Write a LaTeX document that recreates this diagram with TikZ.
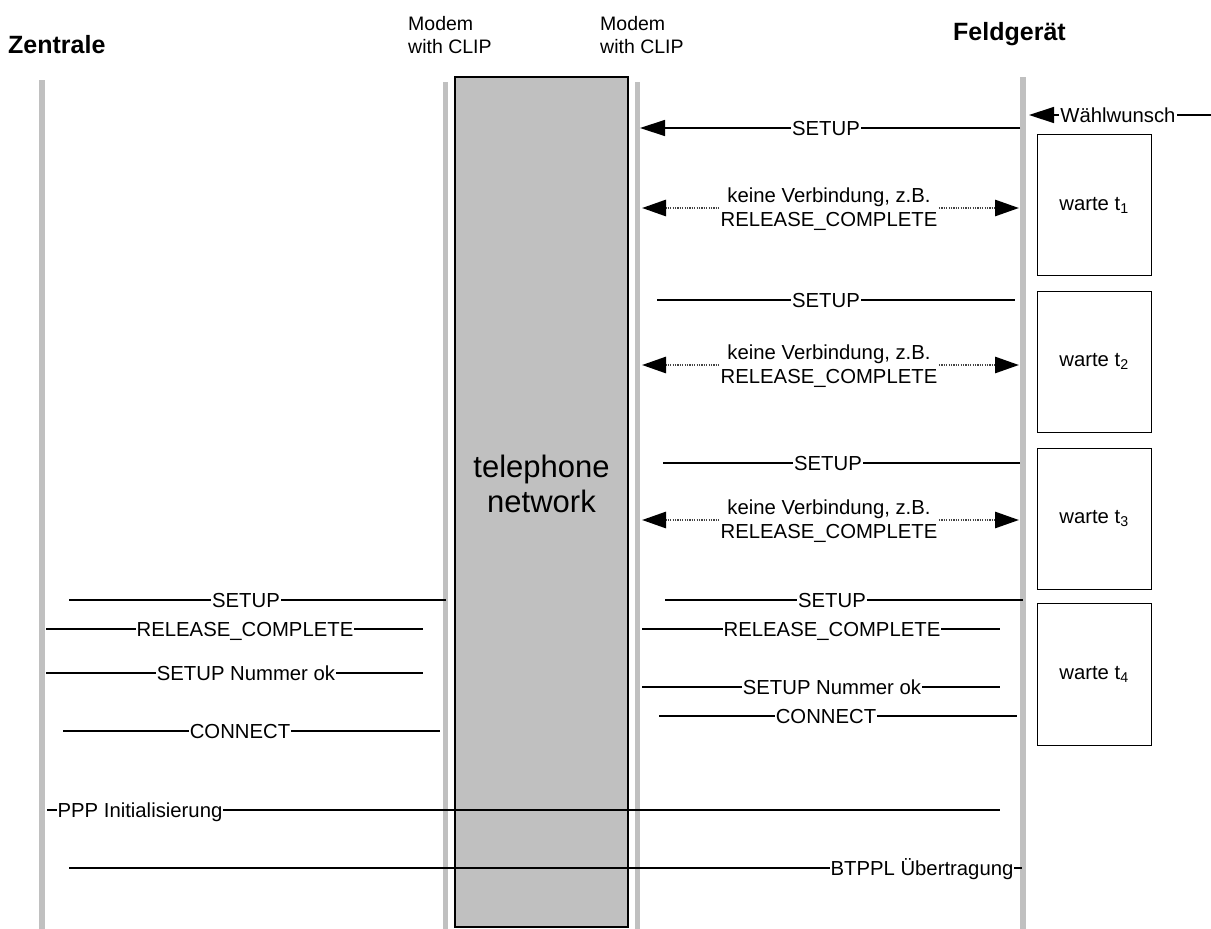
\documentclass[tikz,border=0pt]{standalone}
\usepackage{fontspec}
\setmainfont{Liberation Sans}
\usetikzlibrary{arrows.meta}
\definecolor{lgray}{HTML}{C0C0C0}
\definecolor{dotgray}{HTML}{444444}
\begin{document}
\begin{tikzpicture}[x=1pt,y=-1pt,
  lifeline/.style={draw=lgray, line width=5.5pt},
  msg/.style={draw=black, line width=1.4pt},
  lbl/.style={fill=white, inner xsep=1pt, inner ysep=0.5pt, anchor=base, font=\fontsize{20.3}{24}\selectfont},
  lbltwo/.style={fill=white, inner xsep=1pt, inner ysep=1pt, align=center, font=\fontsize{20.3}{24}\selectfont},
  head/.style={anchor=base west, inner sep=0pt, font=\fontsize{25}{30}\selectfont\bfseries},
  modem/.style={anchor=base west, inner sep=0pt, font=\fontsize{19.5}{23}\selectfont},
  tip/.style={-{Triangle[length=25pt,width=16pt]}},
  nocon/.style={draw=dotgray, line width=2.8pt, dash pattern=on 1.2pt off 1.2pt,
    {Triangle[length=24pt,width=16pt,color=black,fill=black]}-{Triangle[length=24pt,width=16pt,color=black,fill=black]}},
  waitbox/.style={draw=black, line width=1pt, fill=white, minimum width=114pt, inner sep=0pt, font=\fontsize{20.3}{24}\selectfont}
]
\useasboundingbox (0,0) rectangle (1211,929);

% headers
\node[head] (zentrale) at (8,53) {Zentrale};
\node[head] (feld) at (953,40) {Feldgerät};
\node[modem] (m1a) at (408,30) {Modem};
\node[modem] (m1b) at (408,53) {with CLIP};
\node[modem] (m2a) at (600,30) {Modem};
\node[modem] (m2b) at (600,53) {with CLIP};

% lifelines
\coordinate (zt) at (42,80);   \coordinate (zb) at (42,929);
\coordinate (lmt) at (445.5,82); \coordinate (lmb) at (445.5,929);
\coordinate (rmt) at (637.5,82); \coordinate (rmb) at (637.5,929);
\coordinate (ft) at (1023,77); \coordinate (fb) at (1023,929);
\draw[lifeline] (zt) -- (zb);
\draw[lifeline] (lmt) -- (lmb);
\draw[lifeline] (rmt) -- (rmb);
\draw[lifeline] (ft) -- (fb);

% telephone network
\node[draw=black, line width=1.5pt, fill=lgray, minimum width=173pt, minimum height=850pt, inner sep=0pt] (net) at (541.5,502) {};
\node[align=center, inner sep=0pt, font=\fontsize{31}{35}\selectfont] (nettext) at (541.5,484) {telephone\\network};

% wait boxes
\node[waitbox, minimum height=141pt] (w1) at (1094,205) {warte t\textsubscript{1}};
\node[waitbox, minimum height=141pt] (w2) at (1094,361.5) {warte t\textsubscript{2}};
\node[waitbox, minimum height=141pt] (w3) at (1094,518.5) {warte t\textsubscript{3}};
\node[waitbox, minimum height=142pt] (w4) at (1094,674) {warte t\textsubscript{4}};

% Waehlwunsch
\coordinate (ww1) at (1211,115); \coordinate (ww2) at (1029,115);
\draw[msg,tip] (ww1) -- (ww2);
\node[lbl] (lww) at (1118,122) {Wählwunsch};

% SETUP 1
\coordinate (s1a) at (1020,128); \coordinate (s1b) at (640,128);
\draw[msg,tip] (s1a) -- (s1b);
\node[lbl] (ls1) at (826,135) {SETUP};

% no connection 1
\coordinate (n1a) at (642,208); \coordinate (n1b) at (1019,208);
\draw[nocon] (n1a) -- (n1b);
\node[lbltwo] (ln1) at (829,209) {keine Verbindung, z.B.\\RELEASE\_COMPLETE};

% SETUP 2
\coordinate (s2a) at (657,300); \coordinate (s2b) at (1015,300);
\draw[msg] (s2a) -- (s2b);
\node[lbl] (ls2) at (826,307) {SETUP};

% no connection 2
\coordinate (n2a) at (642,365); \coordinate (n2b) at (1019,365);
\draw[nocon] (n2a) -- (n2b);
\node[lbltwo] (ln2) at (829,366) {keine Verbindung, z.B.\\RELEASE\_COMPLETE};

% SETUP 3
\coordinate (s3a) at (663,463); \coordinate (s3b) at (1020,463);
\draw[msg] (s3a) -- (s3b);
\node[lbl] (ls3) at (828,470) {SETUP};

% no connection 3
\coordinate (n3a) at (642,520); \coordinate (n3b) at (1019,520);
\draw[nocon] (n3a) -- (n3b);
\node[lbltwo] (ln3) at (829,521) {keine Verbindung, z.B.\\RELEASE\_COMPLETE};

% right side final sequence
\coordinate (r1a) at (665,600); \coordinate (r1b) at (1023,600);
\draw[msg] (r1a) -- (r1b);
\node[lbl] (lr1) at (832,607) {SETUP};

\coordinate (r2a) at (642,629); \coordinate (r2b) at (1000,629);
\draw[msg] (r2a) -- (r2b);
\node[lbl] (lr2) at (832,636) {RELEASE\_COMPLETE};

\coordinate (r3a) at (642,687); \coordinate (r3b) at (1000,687);
\draw[msg] (r3a) -- (r3b);
\node[lbl] (lr3) at (832,694) {SETUP Nummer ok};

\coordinate (r4a) at (659,716); \coordinate (r4b) at (1017,716);
\draw[msg] (r4a) -- (r4b);
\node[lbl] (lr4) at (826,723) {CONNECT};

% left side sequence
\coordinate (l1a) at (69,600); \coordinate (l1b) at (446,600);
\draw[msg] (l1a) -- (l1b);
\node[lbl] (ll1) at (246,607) {SETUP};

\coordinate (l2a) at (46,629); \coordinate (l2b) at (423,629);
\draw[msg] (l2a) -- (l2b);
\node[lbl] (ll2) at (245,636) {RELEASE\_COMPLETE};

\coordinate (l3a) at (46,673); \coordinate (l3b) at (423,673);
\draw[msg] (l3a) -- (l3b);
\node[lbl] (ll3) at (246,680) {SETUP Nummer ok};

\coordinate (l4a) at (63,731); \coordinate (l4b) at (440,731);
\draw[msg] (l4a) -- (l4b);
\node[lbl] (ll4) at (240,738) {CONNECT};

% PPP
\coordinate (pa) at (47,810); \coordinate (pb) at (1000,810);
\draw[msg] (pa) -- (pb);
\node[lbl] (lp) at (140,817) {PPP Initialisierung};

% BTPPL
\coordinate (ba) at (69,868); \coordinate (bb) at (1022,868);
\draw[msg] (ba) -- (bb);
\node[lbl] (lb) at (922,875) {BTPPL Übertragung};
\end{tikzpicture}
\end{document}
